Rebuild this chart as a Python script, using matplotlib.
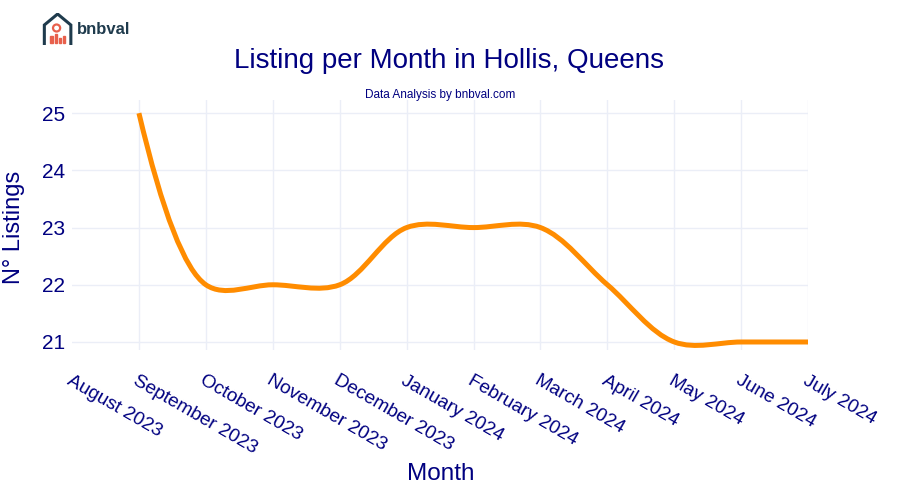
import numpy as np
import matplotlib.pyplot as plt
from matplotlib.path import Path
from matplotlib.patches import PathPatch, Rectangle, Circle

plt.rcParams['font.family'] = ['Liberation Sans', 'DejaVu Sans']

# data
months = ["August 2023", "September 2023", "October 2023", "November 2023",
          "December 2023", "January 2024", "February 2024", "March 2024",
          "April 2024", "May 2024", "June 2024", "July 2024"]
listings = [25, 22, 22, 22, 23, 23, 23, 22, 21, 21, 21]  # September 2023 .. July 2024
first_idx = 1

navy = "#000080"
orange = "#FF8C00"
grid = "#EBEEF7"

fig = plt.figure(figsize=(9, 5), dpi=100)
ax = fig.add_axes([0.08, 0.30, 0.818, 0.50])

x = np.arange(first_idx, first_idx + len(listings), dtype=float)
y = np.array(listings, dtype=float)

# plotly-like spline (Catmull-Rom beziers), tangents computed in pixel-ish space
sx, sy = 67.0, 57.3
P = np.column_stack([x * sx, -y * sy])


def tangent(p0, p1, p2, smooth=1.0):
    d1 = p0 - p1
    d2 = p2 - p1
    d1a = np.hypot(*d1) ** 0.5
    d2a = np.hypot(*d2) ** 0.5
    num = (d2a * d2a * d1 - d1a * d1a * d2) * smooth
    den1 = 3 * d2a * (d1a + d2a)
    den2 = 3 * d1a * (d1a + d2a)
    return p1 + num / den1, p1 - num / den2


tans = [tangent(P[i - 1], P[i], P[i + 1]) for i in range(1, len(P) - 1)]
verts = [P[0], tans[0][0], P[1]]
codes = [Path.MOVETO, Path.CURVE3, Path.CURVE3]
for i in range(2, len(P) - 1):
    verts += [tans[i - 2][1], tans[i - 1][0], P[i]]
    codes += [Path.CURVE4] * 3
verts += [tans[-1][1], P[-1]]
codes += [Path.CURVE3] * 2
verts = np.array(verts)
verts = np.column_stack([verts[:, 0] / sx, -verts[:, 1] / sy])
ax.add_patch(PathPatch(Path(verts, codes), fill=False, edgecolor=orange,
                       lw=3.6, capstyle='butt', joinstyle='round', zorder=3))

ax.set_xlim(0, 11)
ax.set_ylim(20.86, 25.23)
ax.set_xticks(range(len(months)))
ax.set_xticklabels(months, rotation=-30, ha='left', va='top',
                   rotation_mode='anchor', fontsize=13.7, color=navy)
ax.set_yticks([21, 22, 23, 24, 25])
ax.tick_params(axis='y', labelsize=15, colors=navy, length=0, pad=5)
ax.tick_params(axis='x', length=0, pad=16, colors=navy)
ax.grid(True, color=grid, lw=1)
ax.get_xgridlines()[0].set_visible(False)
ax.set_axisbelow(True)
for s in ax.spines.values():
    s.set_visible(False)

fig.text(0.016, 0.545, "N° Listings", fontsize=17, color=navy, rotation=90,
         ha='center', va='center')
fig.text(0.49, 0.052, "Month", fontsize=17.5, color=navy, ha='center', va='center')
fig.text(0.499, 0.878, "Listing per Month in Hollis, Queens", fontsize=20,
         color=navy, ha='center', va='center')
fig.text(0.489, 0.81, "Data Analysis by bnbval.com", fontsize=8.5,
         color=navy, ha='center', va='center')

# logo
lg = fig.add_axes([0.047, 0.91, 0.034, 0.064])
lg.set_xlim(0, 30)
lg.set_ylim(0, 32)
lg.axis('off')
dark = "#1f3b4d"
lg.plot([2, 2, 15, 28, 28], [1, 20, 31, 20, 1], color=dark, lw=2.2, solid_joinstyle='miter')
red = "#e8604c"
for bx, bh in [(8, 7), (12, 9), (16, 5), (20, 7)]:
    lg.add_patch(Rectangle((bx, 2), 2.4, bh, color=red))
lg.add_patch(Circle((14, 17), 3.5, fill=False, ec=red, lw=1.6))
fig.text(0.085, 0.94, "bnbval", fontsize=12, fontweight='bold', color=dark,
         ha='left', va='center')

fig.savefig("out.png", dpi=100)
